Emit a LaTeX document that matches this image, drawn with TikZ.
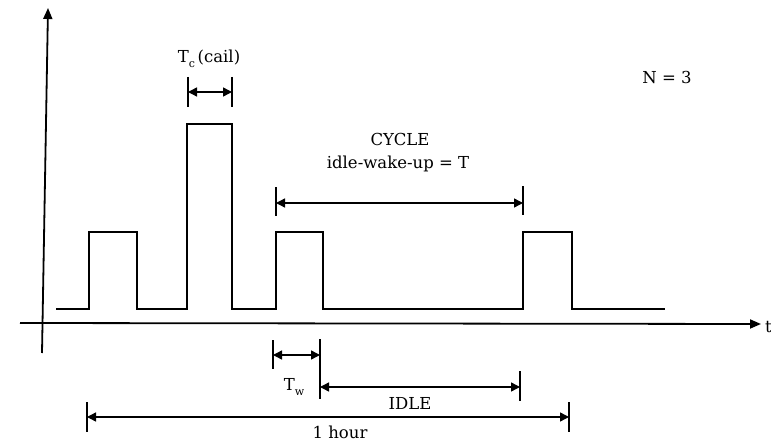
\documentclass[tikz,border=0pt]{standalone}
\usepackage{fontspec}
\setmainfont{DejaVu Serif}
\usetikzlibrary{arrows.meta}
\begin{document}
\begin{tikzpicture}[x=1pt,y=-1pt,
  axis/.style={line width=1.8pt,-{Triangle[length=11pt,width=9pt]}},
  sig/.style={line width=1.7pt,line join=miter},
  dim/.style={line width=1.4pt,{Triangle[length=9pt,width=9pt]}-{Triangle[length=9pt,width=9pt]}},
  tick/.style={line width=1.8pt},
  lbl/.style={font=\fontsize{16.5}{18}\selectfont,inner sep=0pt}]
\useasboundingbox (0,0) rectangle (771,441);
% axes
\coordinate (yb) at (42,353);
\coordinate (yt) at (48,8);
\coordinate (xl) at (20,323);
\coordinate (xr) at (761,324);
\draw[axis] (yb) -- (yt);
\draw[axis] (xl) -- (xr);
\node[lbl,anchor=west] (t) at (765,327) {t};
% signal
\draw[sig] (56,309) -- (89,309) -- (89,232) -- (137,232) -- (137,309)
  -- (187,309) -- (187,124) -- (232,124) -- (232,309)
  -- (276,309) -- (276,232) -- (323,232) -- (323,309)
  -- (523,309) -- (523,232) -- (572,232) -- (572,309) -- (665,309);
% Tc
\coordinate (tc1) at (188,92);
\coordinate (tc2) at (232,92);
\draw[tick] (188,77) -- (188,107);
\draw[tick] (232,77) -- (232,107);
\draw[dim] (tc1) -- (tc2);
\node[lbl] (tclbl) at (209,59) {T\raisebox{-0.55ex}{\fontsize{11}{12}\selectfont c}\,(cail)};
% N = 3
\node[lbl] (n) at (667,77) {N = 3};
% cycle
\node[lbl] (cyc) at (400,139) {CYCLE};
\node[lbl] (iwu) at (398,164) {idle-wake-up = T};
\coordinate (c1) at (276,203);
\coordinate (c2) at (523,203);
\draw[tick] (276,187) -- (276,216);
\draw[tick] (523,186) -- (523,215);
\draw[dim] (c1) -- (c2);
% Tw
\coordinate (w1) at (273,355);
\coordinate (w2) at (320,355);
\draw[tick] (273,340) -- (273,369);
\draw[tick] (320,339) -- (320,399);
\draw[dim] (w1) -- (w2);
\node[lbl] (tw) at (294,387) {T\raisebox{-0.6ex}{\fontsize{11}{12}\selectfont w}};
% IDLE
\coordinate (i1) at (320,387);
\coordinate (i2) at (520,387);
\draw[tick] (520,371) -- (520,401);
\draw[dim] (i1) -- (i2);
\node[lbl] (idle) at (410,403) {IDLE};
% 1 hour
\coordinate (h1) at (87,417);
\coordinate (h2) at (569,417);
\draw[tick] (87,402) -- (87,432);
\draw[tick] (569,402) -- (569,432);
\draw[dim] (h1) -- (h2);
\node[lbl] (hr) at (340,432) {1 hour};
\end{tikzpicture}
\end{document}
